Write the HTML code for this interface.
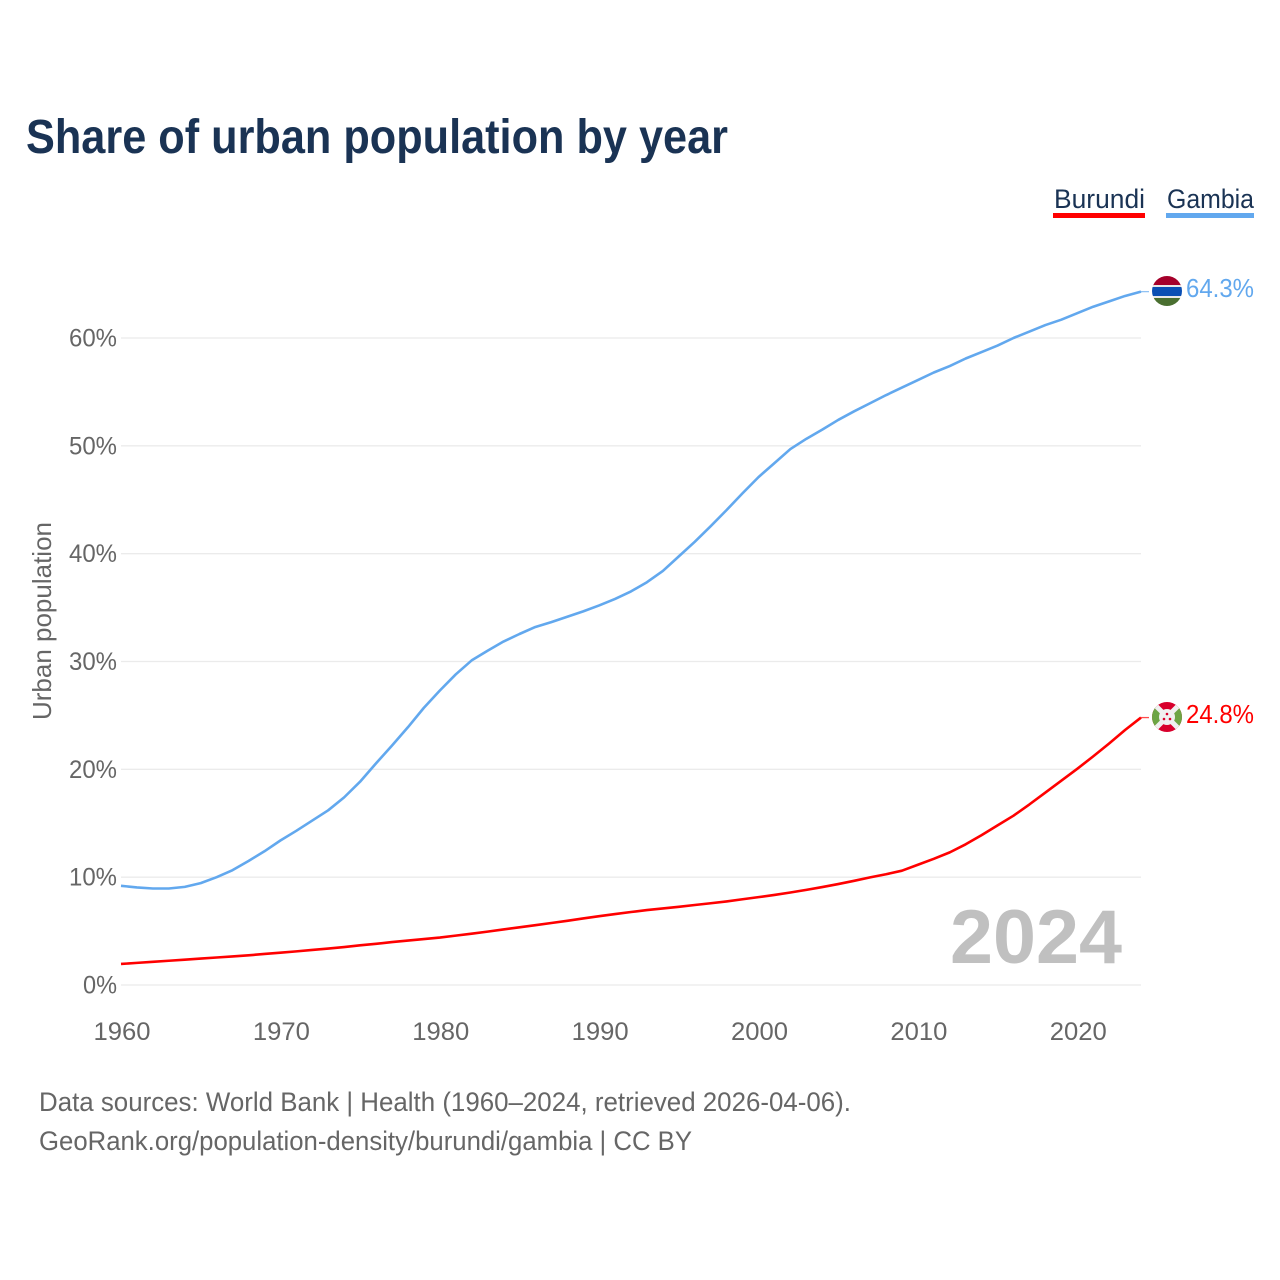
<!DOCTYPE html>
<html lang="en">
<head>
<meta charset="utf-8">
<title>Share of urban population by year</title>
<style>
html,body{margin:0;padding:0;background:#fff;}
svg{display:block;}
text{font-family:"Liberation Sans",sans-serif;}
</style>
</head>
<body>
<svg id="chart" width="1280" height="1280" viewBox="0 0 1280 1280" xmlns="http://www.w3.org/2000/svg">
  <text x="26" y="153" font-size="48" font-weight="700" fill="#1a3354" textLength="702" lengthAdjust="spacingAndGlyphs">Share of urban population by year</text>

  <g>
    <g>
      <text x="1054" y="208" font-size="27" fill="#1a3354" textLength="91" lengthAdjust="spacingAndGlyphs">Burundi</text>
      <rect x="1053" y="213" width="92" height="5" fill="#ff0000"></rect>
    </g>
    <g>
      <text x="1167" y="208" font-size="27" fill="#1a3354" textLength="87" lengthAdjust="spacingAndGlyphs">Gambia</text>
      <rect x="1166" y="213" width="88" height="5" fill="#62a8ee"></rect>
    </g>
  </g>

  <g id="grid"></g>
  <g id="yticks"></g>
  <g id="xticks"></g>
  <text x="0" y="0" transform="translate(51 621) rotate(-90)" text-anchor="middle" font-size="26" fill="#666666" textLength="198" lengthAdjust="spacingAndGlyphs">Urban population</text>

  <text x="1122" y="963" text-anchor="end" font-size="76" font-weight="700" fill="#c0c0c0" textLength="172" lengthAdjust="spacingAndGlyphs">2024</text>

  <g id="series"></g>

  <defs>
    <clipPath id="clip-gambia"><circle cx="1167" cy="291" r="15"></circle></clipPath>
    <clipPath id="clip-burundi"><circle cx="1167" cy="717" r="15"></circle></clipPath>
  </defs>

  <g clip-path="url(#clip-gambia)">
    <rect x="1152" y="276" width="30" height="10" fill="#a5002a"></rect>
    <rect x="1152" y="285" width="30" height="2" fill="#e8e8e8"></rect>
    <rect x="1152" y="287" width="30" height="9" fill="#0a4fb4"></rect>
    <rect x="1152" y="296" width="30" height="2" fill="#e8e8e8"></rect>
    <rect x="1152" y="298" width="30" height="8" fill="#4a6f30"></rect>
  </g>

  <g clip-path="url(#clip-burundi)">
    <rect x="1152" y="702" width="30" height="30" fill="#d8002c"></rect>
    <polygon points="1152,702 1167,717 1152,732" fill="#6da544"></polygon>
    <polygon points="1182,702 1167,717 1182,732" fill="#6da544"></polygon>
    <line x1="1152" y1="702" x2="1182" y2="732" stroke="#f0f0f0" stroke-width="5"></line>
    <line x1="1182" y1="702" x2="1152" y2="732" stroke="#f0f0f0" stroke-width="5"></line>
    <circle cx="1167" cy="717" r="8" fill="#f0f0f0"></circle>
    <circle cx="1167" cy="714" r="1.3" fill="#d8002c"></circle>
    <circle cx="1164" cy="719" r="1.3" fill="#d8002c"></circle>
    <circle cx="1170" cy="719" r="1.3" fill="#d8002c"></circle>
  </g>

  <text x="1186" y="297" font-size="26" fill="#62a8ee" textLength="68" lengthAdjust="spacingAndGlyphs">64.3%</text>
  <text x="1186" y="723" font-size="26" fill="#ff0000" textLength="68" lengthAdjust="spacingAndGlyphs">24.8%</text>

  <text x="39" y="1111" font-size="27" fill="#666666" textLength="812" lengthAdjust="spacingAndGlyphs">Data sources: World Bank | Health (1960–2024, retrieved 2026-04-06).</text>
  <text x="39" y="1150" font-size="27" fill="#666666" textLength="653" lengthAdjust="spacingAndGlyphs">GeoRank.org/population-density/burundi/gambia | CC BY</text>
</svg>

<script>
const firstYear = 1960;
const gambiaValues = [9.2,9.05,8.95,8.95,9.1,9.45,10.0,10.65,11.5,12.4,13.4,14.3,15.25,16.2,17.4,18.85,20.55,22.2,23.9,25.7,27.3,28.8,30.1,31.0,31.85,32.55,33.2,33.65,34.15,34.65,35.2,35.8,36.5,37.35,38.4,39.75,41.1,42.55,44.05,45.6,47.1,48.4,49.7,50.65,51.5,52.4,53.2,53.95,54.7,55.4,56.1,56.8,57.4,58.1,58.7,59.3,60.0,60.6,61.2,61.7,62.3,62.9,63.4,63.9,64.3];
const burundiValues = [1.95,2.05,2.15,2.25,2.35,2.45,2.55,2.65,2.75,2.88,3.0,3.12,3.25,3.38,3.52,3.68,3.82,3.98,4.12,4.26,4.4,4.58,4.76,4.95,5.15,5.35,5.55,5.75,5.95,6.17,6.38,6.58,6.77,6.95,7.1,7.25,7.42,7.58,7.75,7.95,8.15,8.35,8.58,8.82,9.08,9.36,9.66,9.98,10.27,10.6,11.15,11.7,12.3,13.05,13.9,14.8,15.7,16.75,17.85,18.95,20.05,21.2,22.4,23.65,24.8];
const yTickValues = [0,10,20,30,40,50,60];
const xTickValues = [1960,1970,1980,1990,2000,2010,2020];

const svgNS = 'http://www.w3.org/2000/svg';
function xScale(year){ return 121 + (year - 1960) * (1141 - 121) / 64; }
function yScale(pct){ return 985 - pct * (985 - 338) / 60; }

const grid = document.getElementById('grid');
const yticks = document.getElementById('yticks');
const xticks = document.getElementById('xticks');
const series = document.getElementById('series');

yTickValues.forEach(function(v){
  const line = document.createElementNS(svgNS, 'line');
  
  
  line.setAttribute('x1', 121);
  line.setAttribute('x2', 1141);
  line.setAttribute('y1', yScale(v));
  line.setAttribute('y2', yScale(v));
  line.setAttribute('stroke', '#ebebeb');
  line.setAttribute('stroke-width', '1.3');
  grid.appendChild(line);

  const t = document.createElementNS(svgNS, 'text');
  
  
  t.setAttribute('x', 117);
  t.setAttribute('y', yScale(v) + 8.5);
  t.setAttribute('text-anchor', 'end');
  t.setAttribute('font-size', '25');
  t.setAttribute('fill', '#666666');
  t.setAttribute('textLength', v === 0 ? '34' : '48');
  t.setAttribute('lengthAdjust', 'spacingAndGlyphs');
  t.textContent = v + '%';
  yticks.appendChild(t);
});

xTickValues.forEach(function(v){
  const t = document.createElementNS(svgNS, 'text');
  
  
  t.setAttribute('x', xScale(v) + 1);
  t.setAttribute('y', 1040);
  t.setAttribute('text-anchor', 'middle');
  t.setAttribute('font-size', '25');
  t.setAttribute('fill', '#666666');
  t.setAttribute('textLength', '57');
  t.setAttribute('lengthAdjust', 'spacingAndGlyphs');
  t.textContent = v;
  xticks.appendChild(t);
});

function pathFor(values){
  return values.map(function(v, i){
    return (i ? 'L' : 'M') + xScale(firstYear + i).toFixed(2) + ' ' + yScale(v).toFixed(2);
  }).join(' ');
}

const gambiaLine = document.createElementNS(svgNS, 'path');


gambiaLine.setAttribute('d', pathFor(gambiaValues));
gambiaLine.setAttribute('fill', 'none');
gambiaLine.setAttribute('stroke', '#62a8ee');
gambiaLine.setAttribute('stroke-width', '2.6');
gambiaLine.setAttribute('stroke-linejoin', 'round');
series.appendChild(gambiaLine);

const burundiLine = document.createElementNS(svgNS, 'path');


burundiLine.setAttribute('d', pathFor(burundiValues));
burundiLine.setAttribute('fill', 'none');
burundiLine.setAttribute('stroke', '#ff0000');
burundiLine.setAttribute('stroke-width', '2.6');
burundiLine.setAttribute('stroke-linejoin', 'round');
series.appendChild(burundiLine);

const gambiaStub = document.createElementNS(svgNS, 'line');


gambiaStub.setAttribute('x1', xScale(2024));
gambiaStub.setAttribute('x2', 1149);
gambiaStub.setAttribute('y1', yScale(gambiaValues[gambiaValues.length - 1]));
gambiaStub.setAttribute('y2', yScale(gambiaValues[gambiaValues.length - 1]));
gambiaStub.setAttribute('stroke', '#62a8ee');
gambiaStub.setAttribute('stroke-width', '1.3');
gambiaStub.setAttribute('stroke-opacity', '0.7');
series.appendChild(gambiaStub);

const burundiStub = document.createElementNS(svgNS, 'line');


burundiStub.setAttribute('x1', xScale(2024));
burundiStub.setAttribute('x2', 1149);
burundiStub.setAttribute('y1', yScale(burundiValues[burundiValues.length - 1]));
burundiStub.setAttribute('y2', yScale(burundiValues[burundiValues.length - 1]));
burundiStub.setAttribute('stroke', '#ff0000');
burundiStub.setAttribute('stroke-width', '1.3');
burundiStub.setAttribute('stroke-opacity', '0.7');
series.appendChild(burundiStub);
</script>
</body>
</html>
